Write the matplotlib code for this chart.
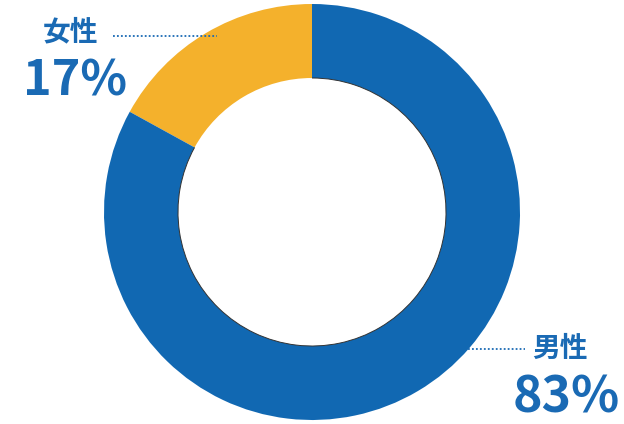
import matplotlib.pyplot as plt
from matplotlib.patches import Arc

plt.rcParams['font.family'] = ['Noto Sans CJK JP', 'DejaVu Sans']

labels = ['女性', '男性']
values = [17, 83]
colors = ['#f4b12c', '#1168b2']
text_blue = '#1a6ab4'

fig = plt.figure(figsize=(6.24, 4.24), dpi=100, facecolor='white')
ax = fig.add_axes([0, 0, 1, 1])

cx, cy, r_out, r_in = 312, 212, 208, 134
wedges, _ = ax.pie(values, colors=colors, startangle=90, counterclock=True,
                   center=(cx, cy), radius=r_out,
                   wedgeprops=dict(width=r_out - r_in, linewidth=0))

# pie() resets the limits, so set them afterwards
ax.set_xlim(0, 624)
ax.set_ylim(0, 424)
ax.set_aspect('equal')
ax.axis('off')

# thin shadow line on the inner edge of the blue part
a_start = 90 + 360 * values[0] / sum(values)
ax.add_patch(Arc((cx, cy), 2 * r_in, 2 * r_in, theta1=a_start, theta2=90 + 360,
                 color='#333333', lw=0.7))

# female label
ax.plot([113, 217], [388, 388], ls=(0, (1, 1.2)), color=text_blue, lw=1.3)
ax.text(70, 392, labels[0], fontsize=20, fontweight='bold', color=text_blue,
        ha='center', va='center')
ax.text(75, 343, f'{values[0]}%', fontsize=35, fontweight='bold', color=text_blue,
        ha='center', va='center')

# male label
ax.plot([468, 525], [75, 75], ls=(0, (1, 1.2)), color=text_blue, lw=1.3)
ax.text(560, 75, labels[1], fontsize=20, fontweight='bold', color=text_blue,
        ha='center', va='center')
ax.text(566, 26, f'{values[1]}%', fontsize=36, fontweight='bold', color=text_blue,
        ha='center', va='center')

fig.savefig('out.png', dpi=100, facecolor='white')
